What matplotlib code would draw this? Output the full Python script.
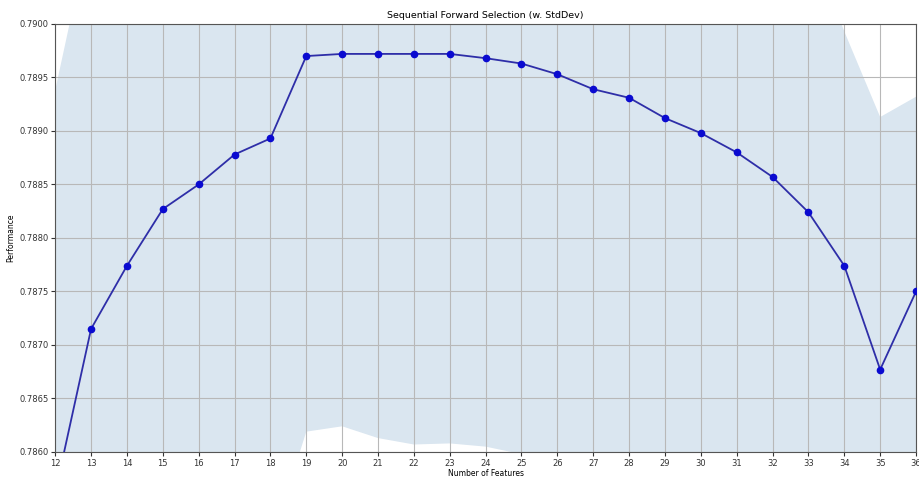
import numpy as np
import matplotlib
matplotlib.use("Agg")
import matplotlib.pyplot as plt

# Number of selected features and the cross-validated performance at each step
k_features = [12, 13, 14, 15, 16, 17, 18, 19, 20, 21, 22, 23, 24,
              25, 26, 27, 28, 29, 30, 31, 32, 33, 34, 35, 36]
avg_score = [0.78562, 0.78715, 0.78774, 0.78827, 0.78850, 0.78878, 0.78893,
             0.78970, 0.78972, 0.78972, 0.78972, 0.78972, 0.78968, 0.78963,
             0.78953, 0.78939, 0.78931, 0.78912, 0.78898, 0.78880, 0.78857,
             0.78824, 0.78774, 0.78677, 0.78750]
std_dev = [0.00376, 0.00378, 0.00380, 0.00380, 0.00380, 0.00380, 0.00380,
           0.00351, 0.00348, 0.00359, 0.00365, 0.00364, 0.00363, 0.00365,
           0.00370, 0.00360, 0.00350, 0.00340, 0.00320, 0.00300, 0.00280,
           0.00256, 0.00219, 0.00236, 0.00182]

avg = np.array(avg_score)
std = np.array(std_dev)
upper = avg + std
lower = avg - std

fig = plt.figure(figsize=(9.2, 4.79), dpi=100)
ax = fig.add_axes([0.060, 0.0564, 0.9357, 0.8936])

ax.fill_between(k_features, upper, lower, alpha=0.2, color="steelblue", lw=0)
ax.plot(k_features, avg, color="#2e2ea8", lw=1.3, zorder=3)
ax.plot(k_features, avg, ls="none", marker="o", markersize=4.5,
        color="#0a0ad0", zorder=4)

ax.set_xlim(12, 36)
ax.set_ylim(0.7860, 0.7900)
ax.set_xticks(k_features)
ax.set_yticks(np.arange(0.7860, 0.79001, 0.0005))
ax.yaxis.set_major_formatter(matplotlib.ticker.FormatStrFormatter("%.4f"))
ax.tick_params(labelsize=6, colors="#333333", length=3, pad=2)
ax.grid(True, color="#b8b8b8", lw=0.8)
for s in ax.spines.values():
    s.set_color("#555555")

ax.set_title("Sequential Forward Selection (w. StdDev)", fontsize=6.8, pad=4)
ax.set_xlabel("Number of Features", fontsize=5.5, labelpad=1)
ax.set_ylabel("Performance", fontsize=5.5, labelpad=3)

fig.savefig("out.png", dpi=100)
